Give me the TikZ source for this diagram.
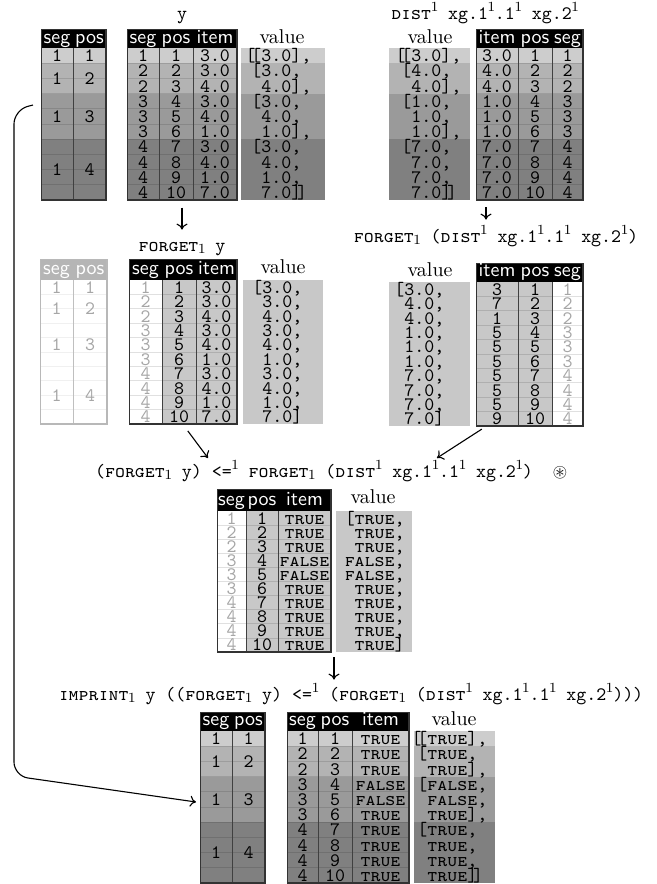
\documentclass[tikz,border=0pt]{standalone}
\usepackage{amssymb}
\usetikzlibrary{arrows.meta,fit}
\definecolor{gA}{HTML}{CDCDCD}
\definecolor{gB}{HTML}{B3B3B3}
\definecolor{gC}{HTML}{9A9A9A}
\definecolor{gD}{HTML}{808080}
\definecolor{gM}{HTML}{C8C8C8}
\definecolor{gT}{HTML}{A6A6A6}
\definecolor{gH}{HTML}{B5B5B5}
\newcommand\TR{\textsc{true}}
\newcommand\FA{\textsc{false}}
\newcommand\ob{\llap{[}}
\newcommand\obb{\llap{[\kern-.22em[}}
\newcommand\cbb{]\kern-.22em]}
\newcommand\sone{\kern-0.3pt$^1$\kern-0.7pt}
\newcommand\bone{\kern-0.3pt$_1$\kern-0.7pt}
\newcommand\grpfill[4]{%
 \fill[gA] (#1,#3) rectangle (#2,{#3+#4});
 \fill[gB] (#1,{#3+#4}) rectangle (#2,{#3+3*#4});
 \fill[gC] (#1,{#3+3*#4}) rectangle (#2,{#3+6*#4});
 \fill[gD] (#1,{#3+6*#4}) rectangle (#2,{#3+10*#4});}
\newcommand\rowlines[5]{\foreach \k in {1,...,9}{\draw[#5] (#1,{#3+\k*#4}) -- (#2,{#3+\k*#4});}}
\newcommand\colrows[5]{\foreach \t [count=\i] in {#5}{\node[#4] at ({#1},{#2+(\i-0.5)*#3+6}) {\t};}}
\newcommand\tframe[6]{%
 \node[draw=#6, line width=0.5pt, inner sep=0, fit={(#2,#4) (#3,#5)}] (#1) {};
 \draw[#6, line width=1.1pt] (#3,#4) -- (#3,#5) -- (#2,#5);}
\begin{document}
\fontsize{9.5}{11}\selectfont
\begin{tikzpicture}[x=0.5pt,y=-0.5pt,
 cell/.style={font=\ttfamily, inner sep=0, anchor=base},
 cellw/.style={cell, anchor=base west},
 celle/.style={cell, anchor=base east},
 fcell/.style={cell, text=gT},
 hd/.style={font=\fontsize{10}{12}\sffamily, text=white, inner sep=0, anchor=base},
 vlab/.style={font=\fontsize{10}{12}\selectfont, inner sep=0, anchor=base},
 lbl/.style={font=\ttfamily, inner sep=0, anchor=base, text height=7pt, text depth=2pt},
 rowline/.style={black, opacity=0.12, line width=0.4pt},
 frow/.style={black, opacity=0.06, line width=0.4pt},
 coldiv/.style={black!75, line width=0.5pt},
 fdiv/.style={black!25, line width=0.5pt},
 arr/.style={-{To[length=3pt,width=5.5pt]}, line width=0.55pt}]
\useasboundingbox (0,0) rectangle (657,884);

% ================= TOP =================
\node[lbl] (L1) at (182,19) {y};
\node[lbl] (L1r) at (485,19) {\textsc{dist}\sone{} xg.1\sone.1\sone{} xg.2\sone};

% T1L
\grpfill{41}{106}{48}{15.2}
\rowlines{41}{106}{48}{15.2}{rowline}
\fill[black] (41,29) rectangle (106,48);
\draw[coldiv] (73,48) -- (73,200);
\tframe{T1L}{41}{106}{29}{200}{black!80}
\node[hd] at (57,43) {seg}; \node[hd] at (89.5,43) {pos};
\foreach \p/\c in {1/0.5,2/2,3/4.5,4/8}{\node[cell] at (57,{48+\c*15.2+6}) {1}; \node[cell] at (89.5,{48+\c*15.2+6}) {\p};}

% T1M
\grpfill{127}{237}{48}{15.2}
\rowlines{127}{237}{48}{15.2}{rowline}
\fill[black] (127,29) rectangle (237,48);
\draw[coldiv] (159,48) -- (159,200) (193,48) -- (193,200);
\tframe{T1M}{127}{237}{29}{200}{black!80}
\node[hd] at (143,43) {seg}; \node[hd] at (176,43) {pos}; \node[hd] at (215,43) {item};
\colrows{143}{48}{15.2}{cell}{1,2,2,3,3,3,4,4,4,4}
\colrows{176}{48}{15.2}{cell}{1,2,3,4,5,6,7,8,9,10}
\colrows{215}{48}{15.2}{cell}{3.0,3.0,4.0,3.0,4.0,1.0,3.0,4.0,1.0,7.0}
% V1
\grpfill{241}{325}{48}{15.2}
\node[vlab] (V1l) at (282,43) {value};
\colrows{261}{48}{15.2}{cellw}{{\obb3.0],},{\ob3.0,},{4.0],},{\ob3.0,},{4.0,},{1.0],},{\ob3.0,},{4.0,},{1.0,},{7.0\cbb}}

% V1R
\grpfill{389}{470}{48}{15.2}
\node[vlab] (V1Rl) at (430,43) {value};
\colrows{411}{48}{15.2}{cellw}{{\obb3.0],},{\ob4.0,},{4.0],},{\ob1.0,},{1.0,},{1.0],},{\ob7.0,},{7.0,},{7.0,},{7.0\cbb}}
% T1R
\grpfill{476}{583}{48}{15.2}
\rowlines{476}{583}{48}{15.2}{rowline}
\fill[black] (476,29) rectangle (583,48);
\draw[coldiv] (518,48) -- (518,200) (552,48) -- (552,200);
\tframe{T1R}{476}{583}{29}{200}{black!80}
\node[hd] at (497,43) {item}; \node[hd] at (535,43) {pos}; \node[hd] at (567.5,43) {seg};
\colrows{497}{48}{15.2}{cell}{3.0,4.0,4.0,1.0,1.0,1.0,7.0,7.0,7.0,7.0}
\colrows{535}{48}{15.2}{cell}{1,2,3,4,5,6,7,8,9,10}
\colrows{567.5}{48}{15.2}{cell}{1,2,2,3,3,3,4,4,4,4}
\node[inner sep=0, fit={(389,29) (583,200)}] (G1R) {};

% ================= MIDDLE =================
\node[lbl] (L2) at (182,251) {\textsc{forget}\bone{} y};
\node[lbl] (L3) at (496,242) {\textsc{forget}\bone{} (\textsc{dist}\sone{} xg.1\sone.1\sone{} xg.2\sone)};
\draw[arr, shorten <=3.5pt, shorten >=3.5pt] (T1M.south) -- (L2.north);
\draw[arr, shorten <=3.5pt, shorten >=4pt] (G1R.south) -- (G1R.south |- L3.north);

% T2L faded
\fill[gH] (40,259) rectangle (107,280);
\rowlines{40}{107}{280}{14.4}{frow}
\draw[fdiv] (73,280) -- (73,424);
\tframe{T2L}{40}{107}{259}{424}{black!28}
\node[hd] at (56.5,274) {seg}; \node[hd] at (90,274) {pos};
\foreach \p/\c in {1/0.5,2/2,3/4.5,4/8}{\node[fcell] at (56.5,{280+\c*14.4+6}) {1}; \node[fcell] at (90,{280+\c*14.4+6}) {\p};}

% T2M
\fill[gM] (162,280) rectangle (237,424);
\rowlines{129}{237}{280}{14.4}{rowline}
\fill[black] (129,259) rectangle (237,280);
\draw[coldiv] (162,280) -- (162,424) (196,280) -- (196,424);
\tframe{T2M}{129}{237}{259}{424}{black!80}
\node[hd] at (145.5,274) {seg}; \node[hd] at (179,274) {pos}; \node[hd] at (216.5,274) {item};
\colrows{145.5}{280}{14.4}{fcell}{1,2,2,3,3,3,4,4,4,4}
\colrows{179}{280}{14.4}{cell}{1,2,3,4,5,6,7,8,9,10}
\colrows{216.5}{280}{14.4}{cell}{3.0,3.0,4.0,3.0,4.0,1.0,3.0,4.0,1.0,7.0}
% V2
\fill[gM] (243,280) rectangle (323,424);
\node[vlab] (V2l) at (283,273) {value};
\colrows{252}{280}{14.4}{cellw}{{[3.0,},{\ 3.0,},{\ 4.0,},{\ 3.0,},{\ 4.0,},{\ 1.0,},{\ 3.0,},{\ 4.0,},{\ 1.0,},{\ 7.0]}}

% V2R
\fill[gM] (389,282) rectangle (470,426);
\node[vlab] (V2Rl) at (430,276) {value};
\colrows{394}{282}{14.4}{cellw}{{[3.0,},{\ 4.0,},{\ 4.0,},{\ 1.0,},{\ 1.0,},{\ 1.0,},{\ 7.0,},{\ 7.0,},{\ 7.0,},{\ 7.0]}}
% T2R
\fill[gM] (476,282) rectangle (552,426);
\rowlines{476}{583}{282}{14.4}{rowline}
\fill[black] (476,263) rectangle (583,282);
\draw[coldiv] (518,282) -- (518,426) (552,282) -- (552,426);
\tframe{T2R}{476}{583}{263}{426}{black!80}
\node[hd] at (497,276.5) {item}; \node[hd] at (535,276.5) {pos}; \node[hd] at (567.5,276.5) {seg};
\colrows{497}{282}{14.4}{cell}{3,7,1,5,5,5,5,5,5,9}
\colrows{535}{282}{14.4}{cell}{1,2,3,4,5,6,7,8,9,10}
\colrows{567.5}{282}{14.4}{fcell}{1,2,2,3,3,3,4,4,4,4}
\node[inner sep=0, fit={(389,263) (583,426)}] (G2R) {};

% ================= CENTER =================
\node[lbl] (L4) at (314,477) {(\textsc{forget}\bone{} y) <=\sone{} \textsc{forget}\bone{} (\textsc{dist}\sone{} xg.1\sone.1\sone{} xg.2\sone)};
\node[inner sep=0] (star) at (560,473) {$\circledast$};
\coordinate (t4l) at (208,458);
\coordinate (t4r) at (437,458);
\draw[arr, shorten <=4pt] (T2M.south) -- (t4l);
\draw[arr, shorten <=2.5pt] (G2R.south) -- (t4r);

% T4
\fill[gM] (246,511) rectangle (331,652);
\rowlines{217}{331}{511}{14.1}{rowline}
\fill[black] (217,489) rectangle (331,511);
\draw[coldiv] (246,511) -- (246,652) (278,511) -- (278,652);
\tframe{T4}{217}{331}{489}{652}{black!80}
\node[hd] at (231.5,505.5) {seg}; \node[hd] at (262,505.5) {pos}; \node[hd] at (304.5,505.5) {item};
\colrows{231.5}{511}{14.1}{fcell}{1,2,2,3,3,3,4,4,4,4}
\colrows{262}{511}{14.1}{cell}{1,2,3,4,5,6,7,8,9,10}
\colrows{304.5}{511}{14.1}{cell}{\TR,\TR,\TR,\FA,\FA,\TR,\TR,\TR,\TR,\TR}
% V4
\fill[gM] (336,511) rectangle (412,652);
\node[vlab] (V4l) at (373,503) {value};
\colrows{405}{511}{14.1}{celle}{{[\TR,},{\TR,},{\TR,},{\FA,},{\FA,},{\TR,},{\TR,},{\TR,},{\TR,},{\TR]}}

% ================= BOTTOM =================
\node[lbl] (L5) at (351,700) {\textsc{imprint}\bone{} y ((\textsc{forget}\bone{} y) <=\sone{} (\textsc{forget}\bone{} (\textsc{dist}\sone{} xg.1\sone.1\sone{} xg.2\sone)))};
\coordinate (a5s) at (334,657);
\draw[arr] (a5s) -- ([yshift=3pt]a5s |- L5.north);

% T5L
\grpfill{200}{265}{731}{15.2}
\rowlines{200}{265}{731}{15.2}{rowline}
\fill[black] (200,712) rectangle (265,731);
\draw[coldiv] (232,731) -- (232,883);
\tframe{T5L}{200}{265}{712}{883}{black!80}
\node[hd] at (216,725.5) {seg}; \node[hd] at (248.5,725.5) {pos};
\foreach \p/\c in {1/0.5,2/2,3/4.5,4/8}{\node[cell] at (216,{731+\c*15.2+6}) {1}; \node[cell] at (248.5,{731+\c*15.2+6}) {\p};}

% T5M
\grpfill{287}{409}{731}{15.2}
\rowlines{287}{409}{731}{15.2}{rowline}
\fill[black] (287,712) rectangle (409,731);
\draw[coldiv] (318,731) -- (318,883) (352,731) -- (352,883);
\tframe{T5M}{287}{409}{712}{883}{black!80}
\node[hd] at (302.5,725.5) {seg}; \node[hd] at (335,725.5) {pos}; \node[hd] at (380.5,725.5) {item};
\colrows{302.5}{731}{15.2}{cell}{1,2,2,3,3,3,4,4,4,4}
\colrows{335}{731}{15.2}{cell}{1,2,3,4,5,6,7,8,9,10}
\colrows{380.5}{731}{15.2}{cell}{\TR,\TR,\TR,\FA,\FA,\TR,\TR,\TR,\TR,\TR}
% V5
\grpfill{414}{495}{731}{15.2}
\node[vlab] (V5l) at (454,725) {value};
\colrows{427}{731}{15.2}{cellw}{{\obb\TR],},{\ob\TR,},{\TR],},{\ob\FA,},{\FA,},{\TR],},{\ob\TR,},{\TR,},{\TR,},{\TR\cbb}}

% long connector
\coordinate (c0) at (33,105);
\coordinate (c1) at (196,802);
\draw[arr, rounded corners=7pt] (c0) -- (14,110) -- (14,776) -- (c1);
\end{tikzpicture}
\end{document}
